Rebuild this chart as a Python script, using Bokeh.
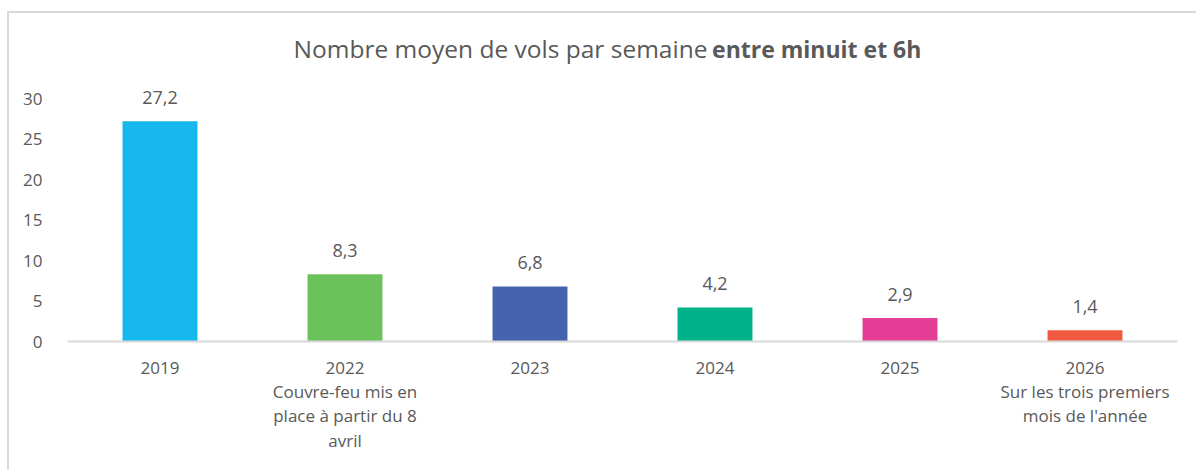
from bokeh.plotting import figure
from bokeh.models import ColumnDataSource, FixedTicker, Label, FactorRange
from bokeh.core.properties import value
from bokeh.embed import file_html
from bokeh.resources import INLINE

years = ["2019", "2022", "2023", "2024", "2025", "2026"]
values = [27.2, 8.3, 6.8, 4.2, 2.9, 1.4]
notes = {
    "2022": "Couvre-feu mis en\nplace à partir du 8\navril",
    "2026": "Sur les trois premiers\nmois de l'année",
}
colors = ["#17B8EE", "#6CC25A", "#4663AF", "#00B28C", "#E33D95", "#F05A40"]
y_ticks = [0, 5, 10, 15, 20, 25, 30]
title_normal = "Nombre moyen de vols par semaine"
title_bold = "entre minuit et 6h"

FONT = "Open Sans"
GREY = "#595959"

factors = [y + ("\n" + notes[y] if y in notes else "") for y in years]
labels = [f"{v:.1f}".replace(".", ",") for v in values]
src = ColumnDataSource(dict(x=factors, top=values, color=colors, label=labels))

Y_END = 38.4
p = figure(
    x_range=FactorRange(*factors, range_padding=0),
    y_range=(0, Y_END),
    width=1189, height=459,
    output_backend="svg", toolbar_location=None,
    min_border_left=58, min_border_right=21, min_border_top=17, min_border_bottom=131,
)
p.margin = (11, 0, 0, 7)
p.styles = {"border-left": "2px solid #d9d9d9", "border-top": "2px solid #d9d9d9"}
p.outline_line_color = None
p.xgrid.grid_line_color = None
p.ygrid.grid_line_color = None

p.vbar(x="x", top="top", width=0.405, color="color", source=src, line_color=None)
p.text(x="x", y="top", text="label", source=src, y_offset=-24,
       text_align="center", text_baseline="middle",
       text_font=value(FONT), text_font_size="18px", text_color=GREY)

p.yaxis.ticker = FixedTicker(ticks=y_ticks)
p.yaxis.axis_line_color = None
p.yaxis.major_tick_line_color = None
p.yaxis.minor_tick_line_color = None
p.yaxis.major_label_standoff = 19
p.yaxis.major_label_text_font = FONT
p.yaxis.major_label_text_font_size = "17px"
p.yaxis.major_label_text_color = GREY

p.xaxis.axis_line_color = "#d9d9d9"
p.xaxis.axis_line_width = 2
p.xaxis.major_tick_line_color = None
p.xaxis.minor_tick_line_color = None
p.xaxis.major_label_standoff = 8
p.xaxis.major_label_text_font = FONT
p.xaxis.major_label_text_font_size = "17px"
p.xaxis.major_label_text_color = GREY
p.xaxis.major_label_text_line_height = 1.06

p.add_layout(Label(x=3.459, y=36.17, text=title_normal,
                   text_align="right", text_baseline="middle", text_font=FONT,
                   text_font_size="24.5px", text_color=GREY))
p.add_layout(Label(x=3.484, y=36.17, text=title_bold,
                   text_align="left", text_baseline="middle", text_font=FONT,
                   text_font_size="23px", text_font_style="bold", text_color=GREY))

open("out.html", "w").write(file_html(p, INLINE))
